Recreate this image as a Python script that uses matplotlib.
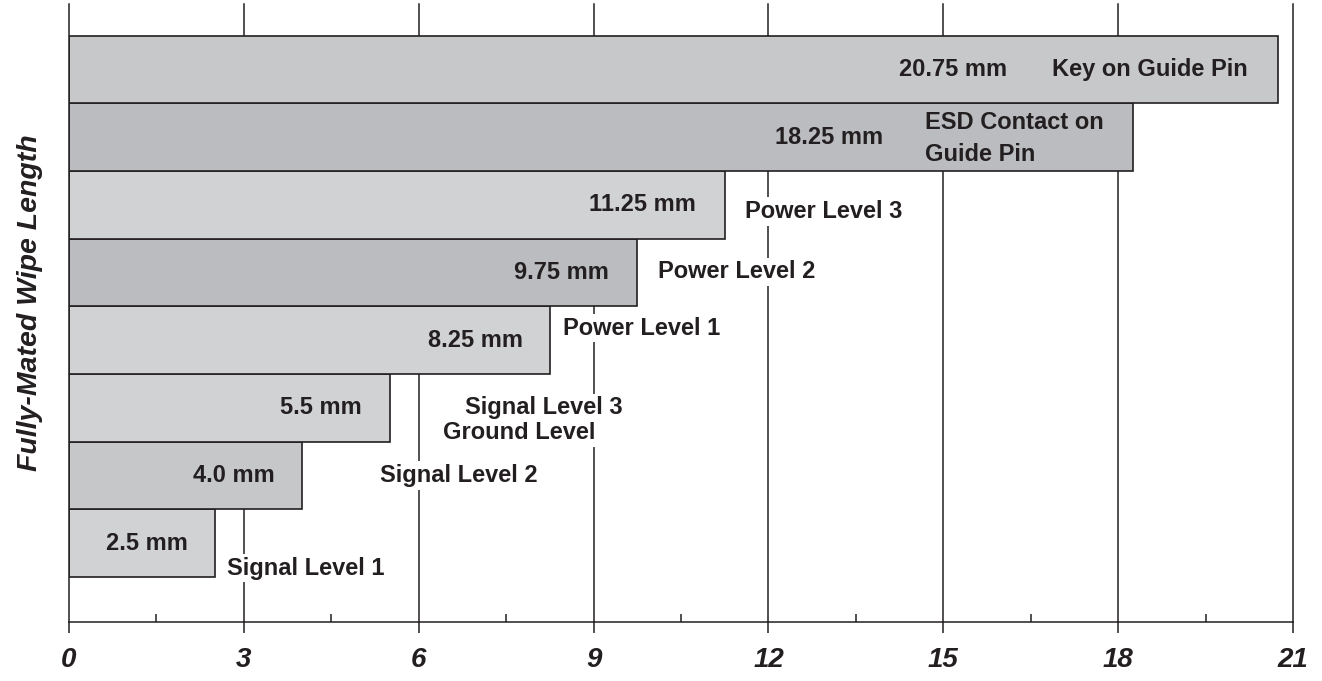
import matplotlib.pyplot as plt
from matplotlib.ticker import MultipleLocator

plt.rcParams['font.family'] = ['Liberation Sans', 'DejaVu Sans']

# wipe lengths (mm), bottom to top
values = [2.5, 4.0, 5.5, 8.25, 9.75, 11.25, 18.25, 20.75]
value_labels = ['2.5 mm', '4.0 mm', '5.5 mm', '8.25 mm', '9.75 mm',
                '11.25 mm', '18.25 mm', '20.75 mm']
bar_colors = ['#d1d2d4', '#c6c7c9', '#d1d2d4', '#d1d2d4', '#bbbcbf',
              '#d1d2d4', '#bbbcbf', '#c7c8ca']
# where the value text ends (right aligned), in mm
value_text_x = [2.04, 3.53, 5.03, 7.79, 9.26, 10.76, 13.96, 16.1]

# contact names: text, left x, y (bar index units), white box
names = [
    ('Signal Level 1', 2.71, -0.37, True),
    ('Signal Level 2', 5.34, 1.0, True),
    ('Ground Level', 6.42, 1.63, True),
    ('Signal Level 3', 6.79, 2.0, True),
    ('Power Level 1', 8.47, 3.18, True),
    ('Power Level 2', 10.1, 4.01, True),
    ('Power Level 3', 11.6, 4.9, True),
    ('ESD Contact on', 14.69, 6.22, False),
    ('Guide Pin', 14.69, 5.74, False),
    ('Key on Guide Pin', 16.86, 7.0, False),
]

ink = '#231f20'

fig = plt.figure(figsize=(13.22, 6.81), dpi=100)
ax = fig.add_axes([69/1322, 1-622/681, 1224/1322, 618/681])

ypos = list(range(len(values)))

# vertical grid lines behind the bars
for gx in range(3, 22, 3):
    ax.axvline(gx, color=ink, lw=1.1, zorder=0, clip_on=False)

ax.barh(ypos, values, height=1.0, color=bar_colors, edgecolor=ink,
        linewidth=1.2, zorder=2)

for y, lab, tx in zip(ypos, value_labels, value_text_x):
    ax.text(tx, y, lab, ha='right', va='center', fontsize=17,
            fontweight='bold', color=ink, zorder=3)

for txt, x, y, boxed in names:
    kw = {}
    if boxed:
        kw['bbox'] = dict(facecolor='white', edgecolor='none', pad=2)
    ax.text(x, y, txt, ha='left', va='center', fontsize=17,
            fontweight='bold', color=ink, zorder=3, **kw)

ax.set_xlim(0, 21)
ax.set_ylim(-1.166, 7.97)

ax.spines['top'].set_visible(False)
ax.spines['right'].set_visible(False)
ax.spines['left'].set_color(ink)
ax.spines['bottom'].set_color(ink)
ax.spines['left'].set_linewidth(1.1)
ax.spines['bottom'].set_linewidth(1.1)
ax.set_yticks([])

ax.xaxis.set_major_locator(MultipleLocator(3))
ax.xaxis.set_minor_locator(MultipleLocator(1.5))
ax.tick_params(axis='x', which='major', direction='out', length=8,
               width=1.1, color=ink, pad=10)
ax.tick_params(axis='x', which='minor', direction='in', length=6,
               width=1.1, color=ink)
for lbl in ax.get_xticklabels():
    lbl.set_fontsize(20)
    lbl.set_fontweight('bold')
    lbl.set_fontstyle('italic')
    lbl.set_color(ink)

fig.text(30/1322, 1-303/681, 'Fully-Mated Wipe Length', rotation=90,
         ha='center', va='center', fontsize=20.5, fontweight='bold',
         fontstyle='italic', color=ink)

fig.savefig('out.png', dpi=100)
